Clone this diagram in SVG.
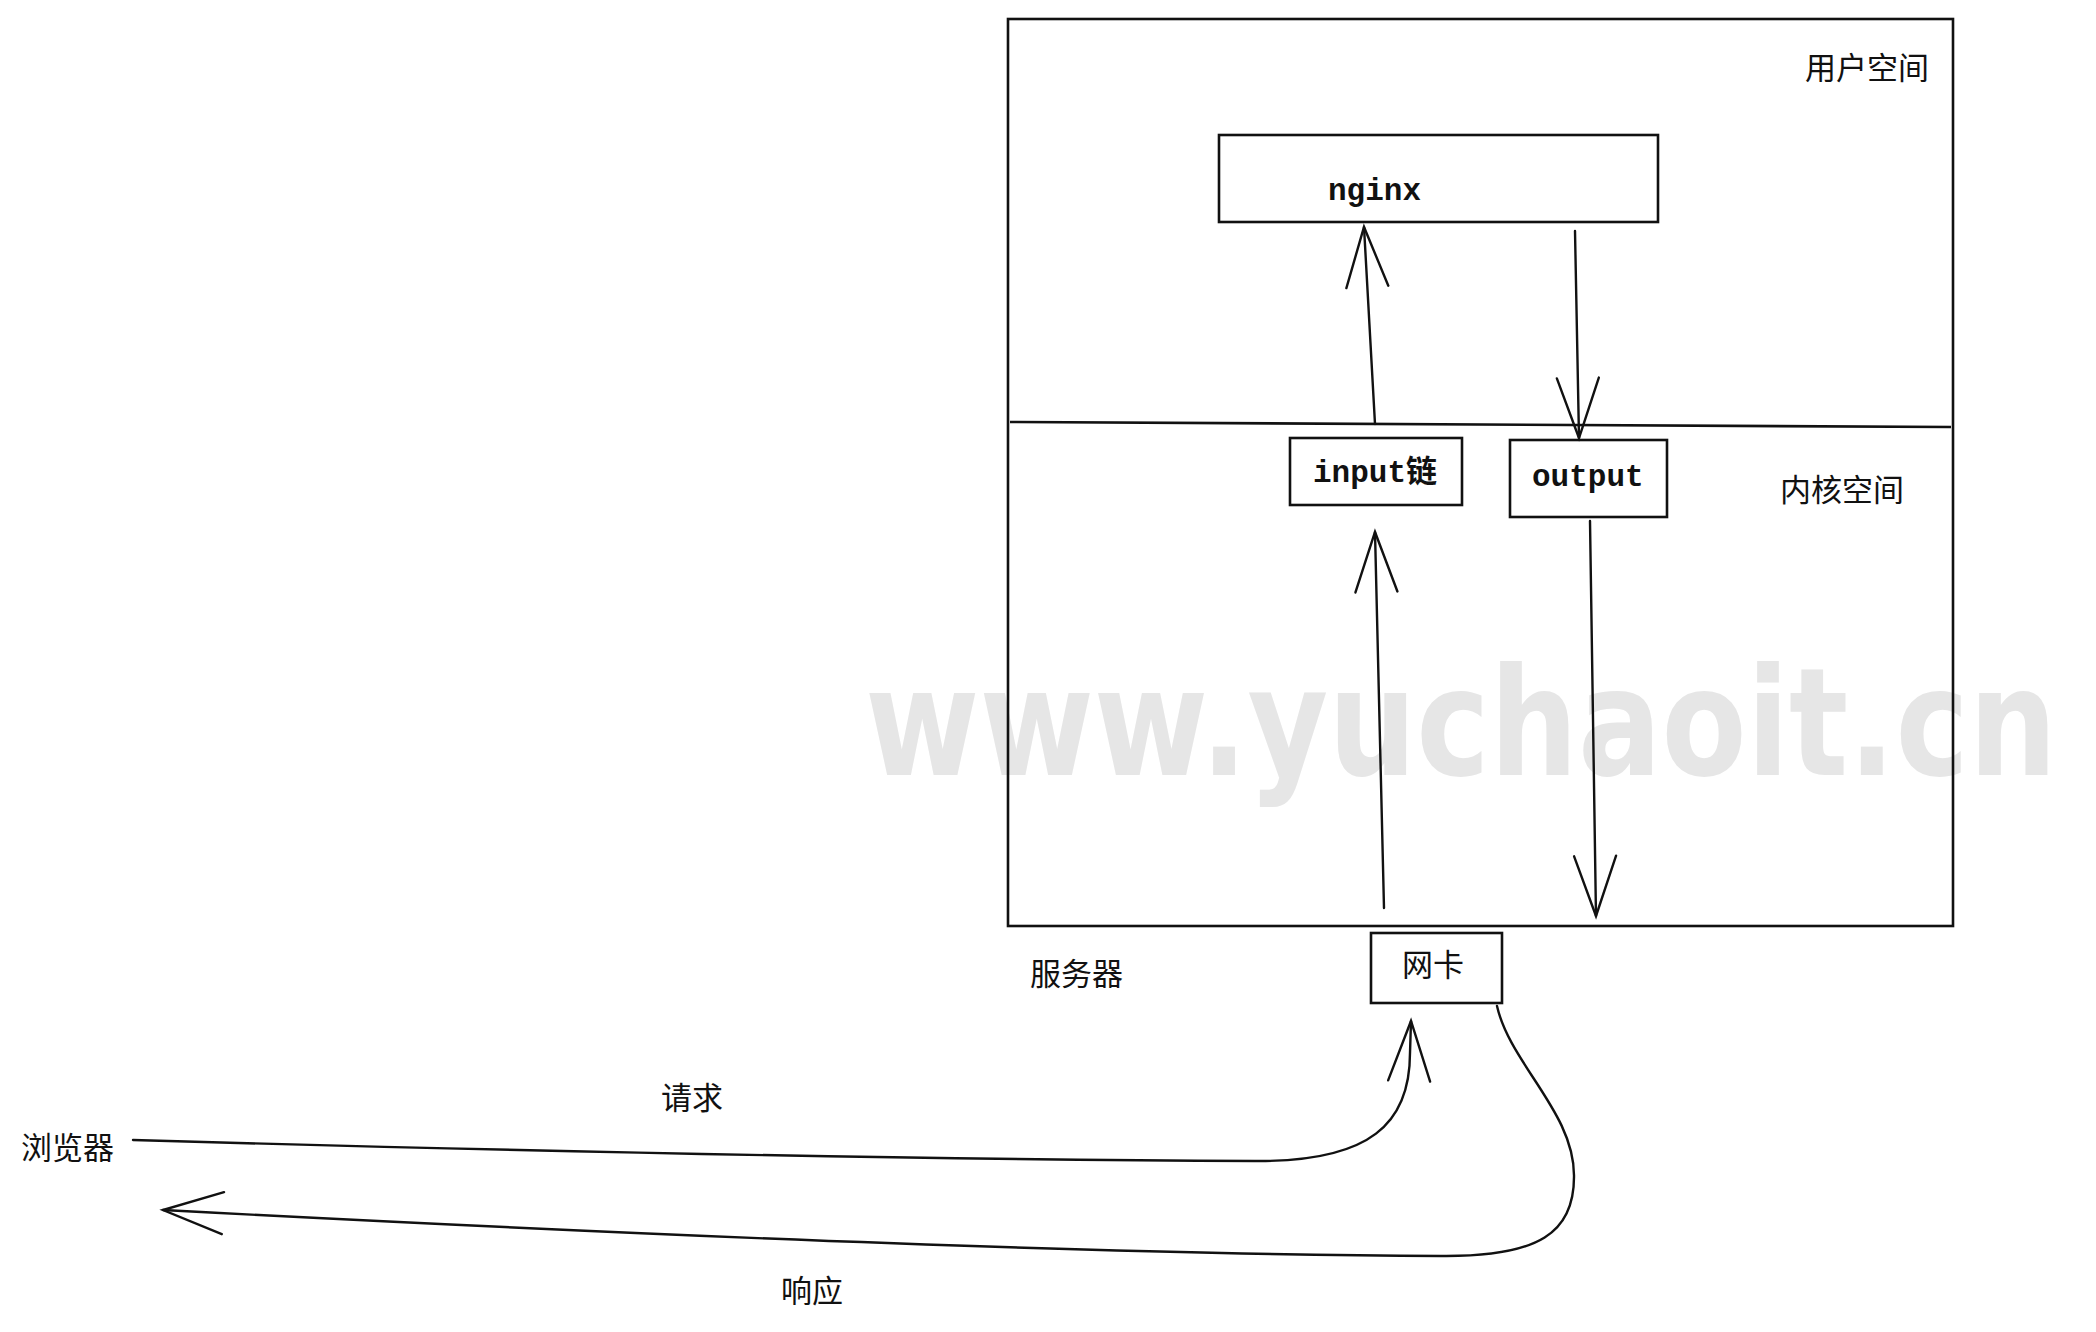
<svg xmlns="http://www.w3.org/2000/svg" width="2096" height="1332" viewBox="0 0 2096 1332">
<style>
.box{fill:none;stroke:#111;stroke-width:2.6}
.ln{fill:none;stroke:#111;stroke-width:2.4;stroke-linecap:round}
.cjk{font-family:"Noto Sans CJK SC","Noto Sans",sans-serif;font-size:31px;fill:#111}
.mono{font-family:"Liberation Mono","Noto Sans CJK SC",monospace;font-size:31px;font-weight:bold;fill:#111}
.wm{font-family:"DejaVu Sans","Noto Sans",sans-serif;font-size:150px;font-weight:bold;fill:#e6e6e6}
</style>
<defs>
<marker id="ah" markerUnits="userSpaceOnUse" viewBox="-70 -30 80 60" refX="0" refY="0" markerWidth="80" markerHeight="60" orient="auto">
<path d="M -60 -21 L 0 0 L -60 21" fill="none" stroke="#111" stroke-width="2.4" stroke-linecap="round"/>
</marker>
</defs>
<rect width="2096" height="1332" fill="#fff"/>
<text class="wm" x="865" y="775" textLength="1192" lengthAdjust="spacingAndGlyphs">www.yuchaoit.cn</text>
<g id="server">
<rect class="box" x="1008" y="19" width="945" height="907"/>
<line class="box" x1="1010" y1="422" x2="1951" y2="427"/>
<text class="cjk" x="1030" y="985">服务器</text>
</g>
<g id="userspace"><text class="cjk" x="1805" y="79">用户空间</text></g>
<g id="kernelspace"><text class="cjk" x="1780" y="501">内核空间</text></g>
<g id="nginx">
<rect class="box" x="1219" y="135" width="439" height="87" fill="#fff"/>
<text class="mono" x="1328" y="200">nginx</text>
</g>
<g id="input">
<rect class="box" x="1290" y="438" width="172" height="67"/>
<text class="mono" x="1313" y="482">input链</text>
</g>
<g id="output">
<rect class="box" x="1510" y="440" width="157" height="77"/>
<text class="mono" x="1532" y="486">output</text>
</g>
<g id="nic">
<rect class="box" x="1371" y="933" width="131" height="70"/>
<text class="cjk" x="1402" y="976">网卡</text>
</g>
<g id="browser"><text class="cjk" x="21" y="1159">浏览器</text></g>
<g id="labels">
<text class="cjk" x="661" y="1109">请求</text>
<text class="cjk" x="781" y="1302">响应</text>
</g>
<g id="connectors">
<path class="ln" d="M 1375 424 L 1364 227" marker-end="url(#ah)"/>
<path class="ln" d="M 1575 231 L 1579 438" marker-end="url(#ah)"/>
<path class="ln" d="M 1384 908 L 1375 532" marker-end="url(#ah)"/>
<path class="ln" d="M 1590 521 L 1596 916" marker-end="url(#ah)"/>
<path class="ln" d="M 133 1140 Q 795 1159 1255 1161 C 1371 1162 1410 1123 1410 1053 L 1411 1021" marker-end="url(#ah)"/>
<path class="ln" d="M 1497 1006 C 1510 1064 1575 1113 1574 1177 C 1574 1232 1540 1257 1441 1256 Q 994 1254 163 1210" marker-end="url(#ah)"/>
</g>
</svg>
